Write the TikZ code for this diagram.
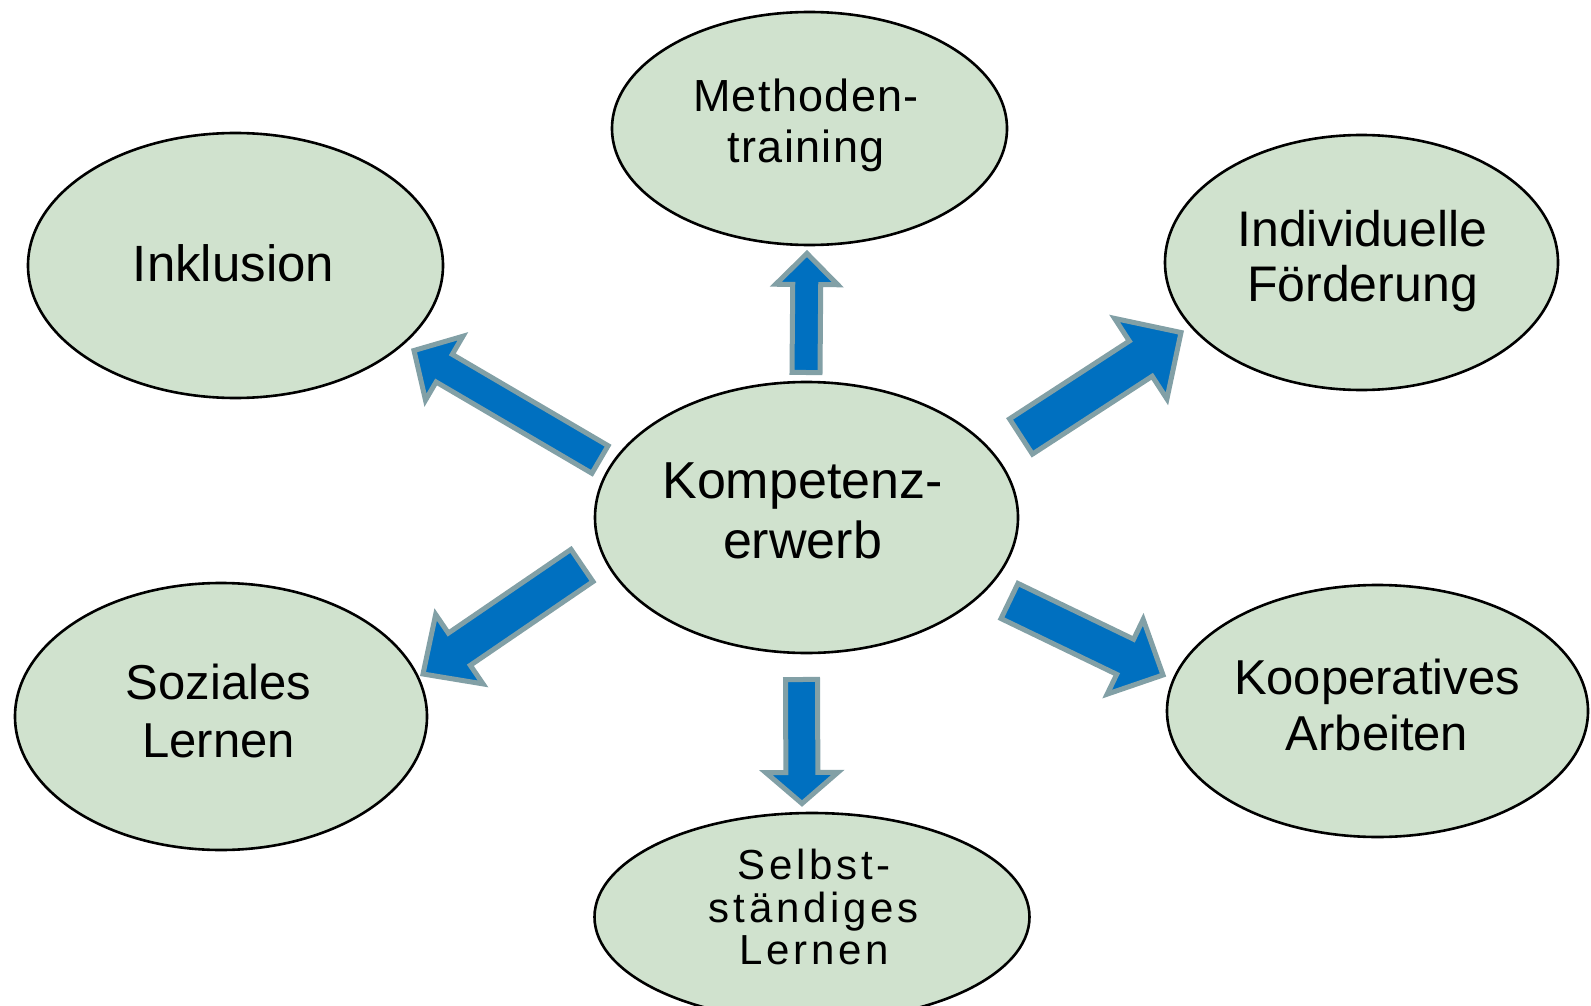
\documentclass[tikz,border=0pt]{standalone}
\usepackage{fontspec}
\setmainfont{Liberation Sans}
\usetikzlibrary{calc,shapes.geometric}
\definecolor{bubblefill}{RGB}{208,226,206}
\definecolor{arrowblue}{RGB}{0,112,192}
\definecolor{arrowedge}{RGB}{130,160,166}
\tikzset{
  bubble/.style={ellipse, draw=black, line width=2.6pt, fill=bubblefill, inner sep=0pt},
  lbl/.style={inner sep=0pt, align=center, text=black},
  barrow/.style={fill=arrowblue, draw=arrowedge, line width=5pt, line join=miter},
}
% #1 tail centre, #2 tip, #3 half shaft width, #4 half head width, #5 head length
\newcommand\blockarrow[5]{%
  \path ($(#2)!#5pt!(#1)$) coordinate (bahead);
  \filldraw[barrow]
    ($(#1)!#3pt!90:(#2)$) -- ($(bahead)!#3pt!90:(#2)$) -- ($(bahead)!#4pt!90:(#2)$)
    -- (#2)
    -- ($(bahead)!#4pt!-90:(#2)$) -- ($(bahead)!#3pt!-90:(#2)$) -- ($(#1)!#3pt!-90:(#2)$)
    -- cycle;}
\begin{document}
\begin{tikzpicture}[x=1pt,y=-1pt]
\useasboundingbox (0,0) rectangle (1591,1006);
\clip (0,0) rectangle (1591,1006);

% ellipses
\node[bubble, minimum width=395pt, minimum height=233pt] (meth) at (809.5,128.5) {};
\node[bubble, minimum width=415pt, minimum height=265pt] (inkl) at (235.5,265.5) {};
\node[bubble, minimum width=393pt, minimum height=255pt] (indi) at (1361.5,262.5) {};
\node[bubble, minimum width=423pt, minimum height=271pt] (komp) at (806.5,517.5) {};
\node[bubble, minimum width=412pt, minimum height=267pt] (sozi) at (221,716.5) {};
\node[bubble, minimum width=421pt, minimum height=252pt] (koop) at (1377.5,711) {};
\node[bubble, minimum width=435pt, minimum height=208pt] (selb) at (812,917) {};

% labels
\node[lbl, font=\fontsize{45}{51}\selectfont\addfontfeature{LetterSpace=3}] (methT) at (806,125.8) {Methoden-\\training};
\node[lbl, font=\fontsize{51}{56}\selectfont] (inklT) at (233.5,263.4) {Inklusion};
\node[lbl, font=\fontsize{50}{55}\selectfont] (indiT) at (1362.5,261.5) {Individuelle\\Förderung};
\node[lbl, font=\fontsize{52}{60}\selectfont] (kompT) at (802.5,511) {Kompetenz-\\erwerb};
\node[lbl, font=\fontsize{49}{58}\selectfont] (soziT) at (218.5,711) {Soziales\\Lernen};
\node[lbl, font=\fontsize{49}{56}\selectfont] (koopT) at (1377,704.75) {Kooperatives\\Arbeiten};
\node[lbl, font=\fontsize{42}{42.5}\selectfont\addfontfeature{LetterSpace=9}] (selbT) at (814,907) {Selbst-\\ständiges\\Lernen};

% arrow end points
\coordinate (u-s) at (806,372.5);   \coordinate (u-e) at (807,253.5);
\coordinate (d-s) at (801.5,679.5); \coordinate (d-e) at (802,803.5);
\coordinate (ul-s) at (600,459.5);  \coordinate (ul-e) at (414,350.5);
\coordinate (ur-s) at (1021,436.5); \coordinate (ur-e) at (1181,332.5);
\coordinate (lr-s) at (1009.5,601); \coordinate (lr-e) at (1163,675);
\coordinate (ll-s) at (582,565.5);  \coordinate (ll-e) at (423,674);

\blockarrow{u-s}{u-e}{14}{31}{31}
\blockarrow{d-s}{d-e}{16}{36}{31}
\blockarrow{ul-s}{ul-e}{16}{37}{35}
\blockarrow{ur-s}{ur-e}{21}{48}{48}
\blockarrow{lr-s}{lr-e}{19.5}{41.5}{42}
\blockarrow{ll-s}{ll-e}{19.5}{42}{44}
\end{tikzpicture}
\end{document}
